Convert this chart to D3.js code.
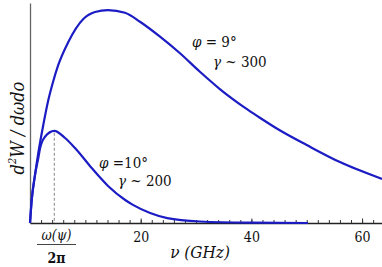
<!DOCTYPE html>
<html lang="en">
<head>
<meta charset="UTF-8">
<title>Spectrum</title>
<style>
  html, body { margin: 0; padding: 0; background: #fff; }
  svg { display: block; }
  svg text { font-stretch: condensed; }
</style>
</head>
<body>
<svg id="chart" width="382" height="267"></svg>
<script src="https://d3js.org/d3.v7.min.js"></script>
<script>
// --- data (nu in GHz, intensity normalised to the upper peak) ---
const nuUpper = [0, 0.31, 0.9, 1.5, 2.4, 3.31, 4.16, 5.11, 6.92, 9.63, 11.74, 14.09, 17.16, 19.87, 23.49, 27.1, 30.7, 34.3, 39.4, 41.6, 45.2, 50.0, 56.0, 63.6];
const valUpper = [0, 0.108, 0.225, 0.329, 0.46, 0.577, 0.662, 0.742, 0.85, 0.958, 0.991, 1.0, 0.987, 0.945, 0.875, 0.797, 0.71, 0.629, 0.531, 0.493, 0.434, 0.366, 0.286, 0.207];

const nuLower = [0, 0.31, 0.9, 1.5, 1.81, 2.71, 4.39, 6.33, 8.13, 11.15, 14.1, 17.2, 18.6, 21.7, 24.8, 30.7, 39.8, 50.2];
const valLower = [0, 0.108, 0.225, 0.305, 0.35, 0.405, 0.433, 0.399, 0.352, 0.258, 0.174, 0.108, 0.085, 0.047, 0.023, 0.007, 0.0014, 0];

const peakNu = 4.39;
const xTickLabels = [20, 40, 60];
const xMinorTicks = d3.range(0, 64, 2);

const FONT = "DejaVu Serif";

const svg = d3.select("#chart");

const x = d3.scaleLinear().domain([0, 63.6]).range([30, 382]);
const y = d3.scaleLinear().domain([0, 1.033]).range([223, 3]);

// y axis: plain line
svg.append("g")
  .attr("transform", `translate(${x(0)},0)`)
  .call(d3.axisLeft(y).tickValues([]).tickSizeOuter(0))
  .call(g => g.select(".domain").attr("stroke", "#666").attr("stroke-width", 1.3));

// x axis: minor ticks inward
svg.append("g")
  .attr("transform", `translate(0,${y(0)})`)
  .call(d3.axisBottom(x).tickValues(xMinorTicks).tickSizeInner(-3).tickSizeOuter(0).tickFormat(""))
  .call(g => g.select(".domain").attr("stroke", "#222").attr("stroke-width", 1.3))
  .call(g => g.selectAll(".tick line").attr("stroke", "#333"));

// x axis: labelled ticks
svg.append("g")
  .attr("transform", `translate(0,${y(0)})`)
  .call(d3.axisBottom(x).tickValues(xTickLabels).tickSizeInner(-4.5).tickSizeOuter(0).tickPadding(9))
  .call(g => g.select(".domain").remove())
  .call(g => g.attr("font-family", FONT).attr("font-size", 14))
  .call(g => g.selectAll(".tick line").attr("stroke", "#333"))
  .call(g => g.selectAll(".tick text").attr("fill", "#111"));

// dashed marker at lower peak
svg.append("line")
  .attr("x1", x(peakNu)).attr("x2", x(peakNu))
  .attr("y1", y(valLower[6]) + 2).attr("y2", y(0))
  .attr("stroke", "#888").attr("stroke-width", 1).attr("stroke-dasharray", "3,2");

const line = d3.line()
  .x(d => x(d[0]))
  .y(d => y(d[1]))
  .curve(d3.curveMonotoneX);

svg.append("path")
  .datum(d3.zip(nuUpper, valUpper))
  .attr("d", line)
  .attr("fill", "none").attr("stroke", "#1c1cc4").attr("stroke-width", 2.2);

svg.append("path")
  .datum(d3.zip(nuLower, valLower))
  .attr("d", line)
  .attr("fill", "none").attr("stroke", "#1c1cc4").attr("stroke-width", 2.2);

// annotations
function label(tx, ty, size) {
  return svg.append("text").attr("x", tx).attr("y", ty)
    .attr("font-family", FONT).attr("font-size", size).attr("fill", "#111");
}

const t1 = label(192, 47, 15);
t1.append("tspan").attr("font-style", "italic").text("φ");
t1.append("tspan").text(" = 9°");
const t2 = label(213, 67, 15);
t2.append("tspan").attr("font-style", "italic").text("γ");
t2.append("tspan").text(" ~ 300");

const t3 = label(99, 168, 15);
t3.append("tspan").attr("font-style", "italic").text("φ");
t3.append("tspan").text(" =10°");
const t4 = label(118, 186, 15);
t4.append("tspan").attr("font-style", "italic").text("γ");
t4.append("tspan").text(" ~ 200");

// x axis title
label(200, 258, 17).attr("text-anchor", "middle").attr("font-style", "italic").text("ν (GHz)");

// fraction omega(psi) / 2pi
label(56.5, 240, 14).attr("text-anchor", "middle").attr("font-style", "italic").text("ω(ψ)");
svg.append("line")
  .attr("x1", 37).attr("x2", 76).attr("y1", 244.5).attr("y2", 244.5)
  .attr("stroke", "#444").attr("stroke-width", 1);
label(56.5, 263, 14).attr("text-anchor", "middle").attr("font-weight", "bold").text("2π");

// y axis title
const yt = label(0, 0, 18)
  .attr("transform", "translate(24,128) rotate(-90)")
  .attr("text-anchor", "middle").attr("font-style", "italic");
yt.append("tspan").text("d");
yt.append("tspan").attr("font-size", 11).attr("dy", -8).text("2");
yt.append("tspan").attr("dy", 8).text("W / dωdo");
</script>
</body>
</html>
